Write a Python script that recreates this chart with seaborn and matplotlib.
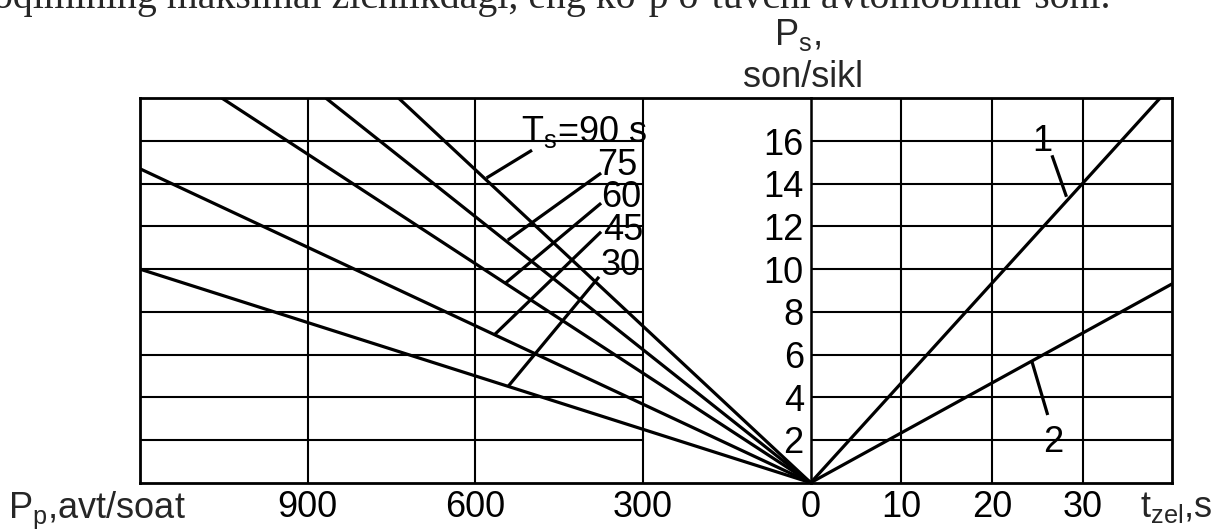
import numpy as np
import pandas as pd
import matplotlib
matplotlib.use("Agg")
import matplotlib.pyplot as plt
import seaborn as sns

# ---- data ----
cycle_times = [30, 45, 60, 75, 90]             # T_s, s
fan_end_pp = [1200, 1200, 1053, 867, 737]      # P_p where each fan line leaves the frame
fan_end_ps = [10.0, 14.7, 18.0, 18.0, 18.0]    # P_s at that point
curve_names = ["1", "2"]
curve_end_t = [38.5, 39.8]                     # t_zel at the end of curves 1, 2
curve_end_ps = [18.0, 9.3]
pp_ticks = [900, 600, 300]
t_ticks = [0, 10, 20, 30]
ps_ticks = [2, 4, 6, 8, 10, 12, 14, 16]
top_sentence = "oqimining maksimal zichlikdagi, eng ko\u2018p o\u2018tuvchi avtomobillar soni."

sns.set_theme(style="white")
plt.rcParams["font.family"] = ["Liberation Sans", "DejaVu Sans"]
plt.rcParams["mathtext.fontset"] = "custom"
plt.rcParams["mathtext.rm"] = "Liberation Sans"
plt.rcParams["mathtext.it"] = "Liberation Sans"
plt.rcParams["mathtext.default"] = "regular"

W, H = 1214, 529
FS = 26
LW_LINE = 2.3
LW_GRID = 1.5
fig = plt.figure(figsize=(W / 100, H / 100), dpi=100)
fig.patch.set_facecolor("white")

x0, xm, x1 = 140, 810.7, 1171.7
yt, yb = 98.3, 482.7
axL = fig.add_axes([x0 / W, 1 - yb / H, (xm - x0) / W, (yb - yt) / H])
axR = fig.add_axes([xm / W, 1 - yb / H, (x1 - xm) / W, (yb - yt) / H])

for ax in (axL, axR):
    ax.set_facecolor("white")
    ax.set_ylim(0, 18)
    for s in ax.spines.values():
        s.set_color("black")
        s.set_linewidth(2.0)
    ax.tick_params(length=0, labelsize=FS, colors="black")

# ---- left panel: P_s versus P_p for several cycle times ----
axL.set_xlim(1200, 0)
axL.spines["right"].set_visible(False)
axL.vlines(pp_ticks, 0, 18, color="black", lw=LW_GRID, zorder=1)
axL.hlines(ps_ticks, 300, 1200, color="black", lw=LW_GRID, zorder=1)
fan = pd.DataFrame({
    "Pp": [v for e in fan_end_pp for v in (0, e)],
    "Ps": [v for e in fan_end_ps for v in (0, e)],
    "Ts": [t for t in cycle_times for _ in (0, 1)],
})
sns.lineplot(data=fan, x="Pp", y="Ps", units="Ts", estimator=None, sort=False,
             color="black", lw=LW_LINE, ax=axL, legend=False, zorder=3)
axL.set_xticks(pp_ticks)
axL.set_xticklabels([str(v) for v in pp_ticks])
axL.set_yticks([])
axL.tick_params(axis="x", pad=5)
axL.set_xlabel("")
axL.set_ylabel("")

# labels with leader lines
fan_label_text = [str(t) for t in cycle_times[:-1]] + [r"T$_s$=90 s"]
fan_label_pos = [(375, 9.72), (371.6, 11.35), (375, 12.92), (381.4, 14.4), (518.3, 15.96)]
fan_leaders = [((378.7, 9.64), (542, 4.49)),
               ((375, 11.75), (566.6, 6.91)),
               ((375, 13.09), (545.6, 9.36)),
               ((375, 14.5), (542, 11.36)),
               ((498.6, 15.57), (580, 14.27))]
for txt, (px, py), ((ax_, ay_), (bx, by)) in zip(fan_label_text, fan_label_pos, fan_leaders):
    axL.text(px, py, txt, fontsize=FS, ha="left", va="baseline", color="black", zorder=4)
    axL.plot([ax_, bx], [ay_, by], color="black", lw=LW_LINE, solid_capstyle="butt", zorder=3)

# ---- right panel: P_s versus t_zel ----
axR.set_xlim(0, 39.8)
axR.spines["left"].set_linewidth(LW_GRID + 0.3)
axR.set_xticks(t_ticks)
axR.set_xticklabels([str(v) for v in t_ticks])
axR.set_yticks(ps_ticks)
axR.set_yticklabels([str(v) for v in ps_ticks])
axR.tick_params(axis="x", pad=5)
axR.tick_params(axis="y", pad=5)
axR.grid(True, color="black", lw=LW_GRID, zorder=1)
axR.set_axisbelow(True)
cur = pd.DataFrame({
    "t": [v for e in curve_end_t for v in (0, e)],
    "Ps": [v for e in curve_end_ps for v in (0, e)],
    "curve": [c for c in curve_names for _ in (0, 1)],
})
sns.lineplot(data=cur, x="t", y="Ps", units="curve", estimator=None, sort=False,
             color="black", lw=LW_LINE, ax=axR, legend=False, zorder=3)
axR.set_xlabel("")
axR.set_ylabel("")
curve_label_pos = [(25.55, 16.0), (26.76, 1.9)]
curve_leaders = [((26.6, 15.33), (28.2, 13.39)), ((26.13, 3.17), (24.4, 5.66))]
for txt, (px, py), ((ax_, ay_), (bx, by)) in zip(curve_names, curve_label_pos, curve_leaders):
    axR.text(px, py, txt, fontsize=FS, ha="center", va="center", color="black", zorder=4)
    axR.plot([ax_, bx], [ay_, by], color="black", lw=LW_LINE, solid_capstyle="butt", zorder=3)

# ---- axis titles placed as in the drawing ----
fig.text(8 / W, 1 - 518 / H, r"P$_p$,avt/soat", fontsize=FS, ha="left", va="baseline")
fig.text(1140 / W, 1 - 517 / H, r"t$_{zel}$,s", fontsize=FS, ha="left", va="baseline")
fig.text(797 / W, 1 - 45 / H, r"P$_s$,", fontsize=FS, ha="center", va="baseline")
fig.text(803 / W, 1 - 87 / H, "son/sikl", fontsize=FS, ha="center", va="baseline")

# clipped sentence at the very top (part of the page the chart was cut from)
t = fig.text(-7 / W, 1 - 8 / H, top_sentence, fontsize=28, ha="left", va="baseline",
             family=["Liberation Serif", "DejaVu Serif"])
fig.canvas.draw()
bb = t.get_window_extent()
t.set_fontsize(28 * 1118 / bb.width)

fig.savefig("out.png", dpi=100, facecolor="white")
